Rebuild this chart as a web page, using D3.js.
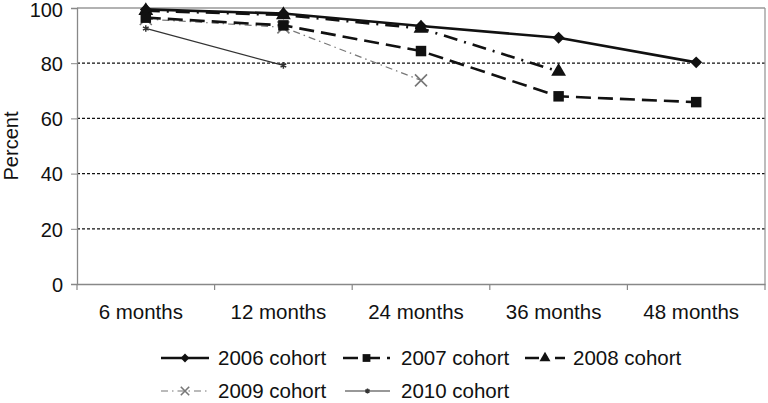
<!DOCTYPE html>
<html><head><meta charset="utf-8">
<script src="https://cdn.jsdelivr.net/npm/d3@7"></script>
<style>body{margin:0;background:#fff}svg{display:block}text{font-family:"Liberation Sans",Arial,sans-serif}</style>
</head><body>
<svg id="c" width="768" height="403"></svg>
<script>
const categories = ["6 months","12 months","24 months","36 months","48 months"];
const yTicks = [0,20,40,60,80,100];
const c2006 = [99.5, 98, 93.5, 89.2, 80.3];
const c2007 = [96.5, 93.7, 84.4, 68, 65.9];
const c2008 = [99, 97.5, 92.6, 77, null];
const c2009 = [96, 93, 73.8, null, null];
const c2010 = [92.6, 79.2, null, null, null];
const seriesNames = ["2006 cohort","2007 cohort","2008 cohort","2009 cohort","2010 cohort"];

const svg = d3.select("#c");
const L=77,R=765,T=8,B=284;
const x = d3.scaleBand().domain(categories).range([L,R]);
const y = d3.scaleLinear().domain([0,100]).range([B,T]);

svg.append("g").selectAll("line").data([20,40,60,80]).join("line")
 .attr("x1",L).attr("x2",R).attr("y1",d=>y(d)).attr("y2",d=>y(d))
 .attr("stroke","#111").attr("stroke-width",1.2).attr("stroke-dasharray","3,2");
svg.append("line").attr("x1",L).attr("x2",R).attr("y1",y(100)).attr("y2",y(100)).attr("stroke","#999").attr("stroke-width",1.3);
svg.append("line").attr("x1",R).attr("x2",R).attr("y1",y(100)).attr("y2",B).attr("stroke","#999").attr("stroke-width",1.3);

const ya = svg.append("g").attr("transform",`translate(${L},0)`).call(d3.axisLeft(y).tickValues(yTicks).tickSize(6).tickPadding(8));
ya.select(".domain").attr("stroke","#888").attr("stroke-width",1.3);
ya.selectAll(".tick line").attr("stroke","#888");
ya.selectAll("text").attr("font-size",20).attr("fill","#111").attr("dy",d=>d===100?"0.4em":"0.36em");
const xa = svg.append("g").attr("transform",`translate(0,${B})`).call(d3.axisBottom(x).tickSize(0).tickPadding(20));
xa.select(".domain").attr("stroke","#888").attr("stroke-width",1.3);
xa.selectAll("text").attr("font-size",20.5).attr("fill","#111").attr("dx",-5);
svg.append("g").selectAll("line").data(d3.range(categories.length+1)).join("line")
 .attr("x1",i=>L+i*x.step()).attr("x2",i=>L+i*x.step()).attr("y1",B).attr("y2",B+6)
 .attr("stroke","#888").attr("stroke-width",1.2);

svg.append("text").attr("transform",`translate(18,${(T+B)/2}) rotate(-90)`).attr("text-anchor","middle")
 .attr("font-size",20).attr("fill","#111").text("Percent");

const styles = [
 {data:c2006,color:"#111",w:2.6,dash:null,marker:"diamond",ms:90},
 {data:c2007,color:"#111",w:2.6,dash:"15,7",marker:"square",ms:110},
 {data:c2008,color:"#111",w:2.6,dash:"14,7,2,7",marker:"triangle",ms:95},
 {data:c2009,color:"#777",w:1.2,dash:"7,4,1.5,4",marker:"x",ms:60},
 {data:c2010,color:"#333",w:1.2,dash:null,marker:"star",ms:30}
];
const symType = {diamond:d3.symbolDiamond2,square:d3.symbolSquare,triangle:d3.symbolTriangle,star:d3.symbolAsterisk};
function drawMarker(g,s,cx,cy,size,scale){
  if(s.marker==="x"){
    const r=6*scale;
    g.append("path").attr("d",`M${cx-r},${cy-r}L${cx+r},${cy+r}M${cx-r},${cy+r}L${cx+r},${cy-r}`)
     .attr("stroke",s.color).attr("stroke-width",1.6).attr("fill","none");
  } else if(s.marker==="star"){
    g.append("path").attr("transform",`translate(${cx},${cy})`).attr("d",d3.symbol(d3.symbolAsterisk,size)())
     .attr("stroke",s.color).attr("stroke-width",1.5).attr("fill","none");
  } else {
    g.append("path").attr("transform",`translate(${cx},${cy})`).attr("d",d3.symbol(symType[s.marker],size)())
     .attr("fill",s.color).attr("stroke","none");
  }
}
const line = d3.line().defined(d=>d!=null).x((d,i)=>x(categories[i])+x.bandwidth()/2).y(d=>y(d));
styles.slice().reverse().forEach(s=>{
  const g = svg.append("g");
  g.append("path").datum(s.data).attr("d",line).attr("fill","none").attr("stroke",s.color)
   .attr("stroke-width",s.w).attr("stroke-dasharray",s.dash);
  s.data.forEach((d,i)=>{ if(d!=null) drawMarker(g,s,x(categories[i])+x.bandwidth()/2,y(d),s.ms,1); });
});

const legPos = [[161,358],[343,358],[525,358],[161,391],[345,391]];
const legLen = [48,47,40,48,45];
const legTx = [218,401,573,218,401];
styles.forEach((s,i)=>{
  const [lx,ly]=legPos[i]; const g=svg.append("g");
  g.append("line").attr("x1",lx).attr("x2",lx+legLen[i]).attr("y1",ly).attr("y2",ly)
   .attr("stroke",s.color).attr("stroke-width",s.w).attr("stroke-dasharray",s.dash);
  drawMarker(g,s,lx+legLen[i]/2,ly,s.ms*0.55,0.7);
  g.append("text").attr("x",legTx[i]).attr("y",ly).attr("dy","0.35em")
   .attr("font-size",20.5).attr("fill","#111").text(seriesNames[i]);
});
</script>
</body></html>
